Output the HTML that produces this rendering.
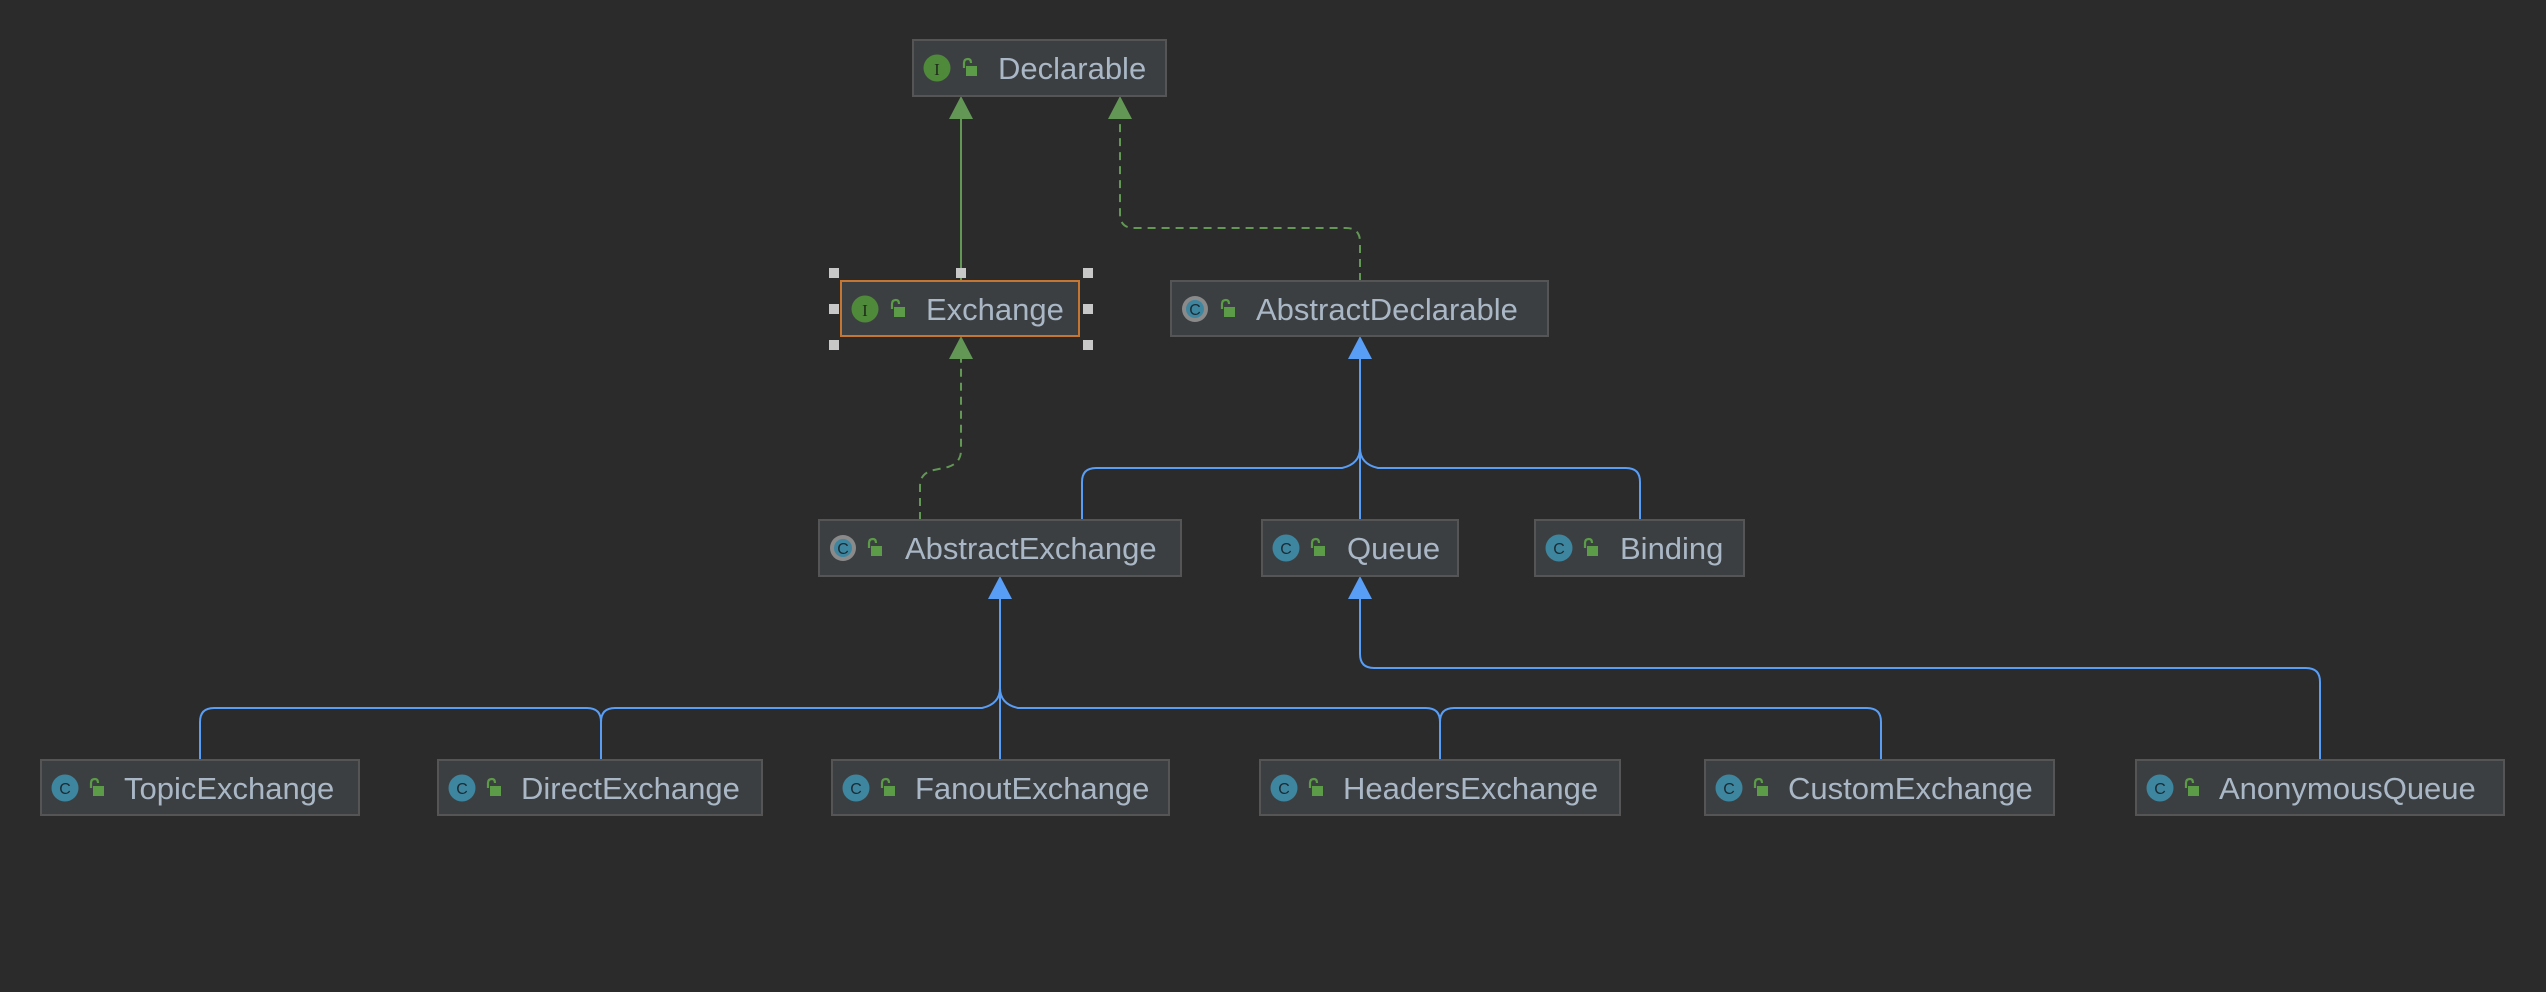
<!DOCTYPE html>
<html><head><meta charset="utf-8"><style>
html,body{margin:0;padding:0;background:#2b2b2b;}
svg{display:block}
text{font-family:"Liberation Sans",sans-serif;font-size:31px;fill:#a9b7c6}
</style></head><body>
<svg width="2546" height="992" viewBox="0 0 2546 992" xmlns="http://www.w3.org/2000/svg">
<defs>
<g id="lock"><path d="M2 -4 V-9 Q2 -13 6 -13 Q9 -13 9 -9" fill="none" stroke="#5c9c48" stroke-width="2.2"/><rect x="4" y="-6" width="11" height="10" fill="#5c9c48"/></g>
</defs>
<rect width="2546" height="992" fill="#2b2b2b"/>

<!-- green connectors -->
<g stroke="#629755" stroke-width="2" fill="none">
<line x1="961" y1="281" x2="961" y2="116"/>
<path d="M1360 281 V242 Q1360 228 1346 228 H1134 Q1120 228 1120 214 V116" stroke-dasharray="8,6"/>
<path d="M920 520 V486 Q920 473 934 470 L948 467 Q961 463 961 450 V356" stroke-dasharray="8,6"/>
</g>
<g fill="#629755">
<polygon points="961,96 949,119 973,119"/>
<polygon points="1120,96 1108,119 1132,119"/>
<polygon points="961,336 949,359 973,359"/>
</g>

<!-- blue connectors -->
<g stroke="#589df6" stroke-width="2" fill="none">
<line x1="1360" y1="350" x2="1360" y2="520"/>
<path d="M1082 520 V482 Q1082 468 1096 468 H1342 Q1360 464 1360 448 Q1360 464 1378 468 H1626 Q1640 468 1640 482 V520"/>
<line x1="1000" y1="590" x2="1000" y2="760"/>
<path d="M200 760 V722 Q200 708 214 708 H587 Q601 708 601 722 V760 M601 722 Q601 708 615 708 H982 Q1000 704 1000 688 Q1000 704 1018 708 H1426 Q1440 708 1440 722 V760 M1440 722 Q1440 708 1454 708 H1867 Q1881 708 1881 722 V760"/>
<path d="M1360 590 V654 Q1360 668 1374 668 H2306 Q2320 668 2320 682 V760"/>
</g>
<g fill="#589df6">
<polygon points="1360,336 1348,359 1372,359"/>
<polygon points="1000,576 988,599 1012,599"/>
<polygon points="1360,576 1348,599 1372,599"/>
</g>

<!-- boxes -->
<g stroke="#555" stroke-width="2" fill="#3c3f41">
<rect x="913" y="40" width="253" height="56"/>
<rect x="1171" y="281" width="377" height="55"/>
<rect x="819" y="520" width="362" height="56"/>
<rect x="1262" y="520" width="196" height="56"/>
<rect x="1535" y="520" width="209" height="56"/>
<rect x="41" y="760" width="318" height="55"/>
<rect x="438" y="760" width="324" height="55"/>
<rect x="832" y="760" width="337" height="55"/>
<rect x="1260" y="760" width="360" height="55"/>
<rect x="1705" y="760" width="349" height="55"/>
<rect x="2136" y="760" width="368" height="55"/>
</g>
<rect x="841" y="281" width="238" height="55" fill="#3c3f41" stroke="#c57633" stroke-width="2"/>

<!-- handles -->
<g fill="#c8c8c8">
<rect x="829" y="268" width="10" height="10"/><rect x="956" y="268" width="10" height="10"/><rect x="1083" y="268" width="10" height="10"/>
<rect x="829" y="304" width="10" height="10"/><rect x="1083" y="304" width="10" height="10"/>
<rect x="829" y="340" width="10" height="10"/><rect x="1083" y="340" width="10" height="10"/>
</g>

<!-- interface icons -->
<g>
<circle cx="937" cy="68" r="13.5" fill="#4f8a3a"/><text x="937" y="75" font-size="17" text-anchor="middle" style="fill:#1e2a1a;font-size:17px;font-family:'Liberation Serif',serif">I</text>
<use href="#lock" x="962" y="72"/>
<circle cx="865" cy="309" r="13.5" fill="#4f8a3a"/><text x="865" y="316" text-anchor="middle" style="fill:#1e2a1a;font-size:17px;font-family:'Liberation Serif',serif">I</text>
<use href="#lock" x="890" y="313"/>
</g>

<!-- class icons -->
<g font-size="16">
<circle cx="1195" cy="309" r="13" fill="#8a8a8a"/><circle cx="1195" cy="309" r="9" fill="#3e86a0"/><text x="1195" y="315" text-anchor="middle" style="fill:#1b2b33;font-size:16px">C</text><use href="#lock" x="1220" y="313"/>
<circle cx="843" cy="548" r="13" fill="#8a8a8a"/><circle cx="843" cy="548" r="9" fill="#3e86a0"/><text x="843" y="554" text-anchor="middle" style="fill:#1b2b33;font-size:16px">C</text><use href="#lock" x="867" y="552"/>
</g>
<g>
<circle cx="1286" cy="548" r="13.5" fill="#3e86a0"/><text x="1286" y="554" text-anchor="middle" style="fill:#1b2b33;font-size:16px">C</text><use href="#lock" x="1310" y="552"/>
<circle cx="1559" cy="548" r="13.5" fill="#3e86a0"/><text x="1559" y="554" text-anchor="middle" style="fill:#1b2b33;font-size:16px">C</text><use href="#lock" x="1583" y="552"/>
<circle cx="65" cy="788" r="13.5" fill="#3e86a0"/><text x="65" y="794" text-anchor="middle" style="fill:#1b2b33;font-size:16px">C</text><use href="#lock" x="89" y="792"/>
<circle cx="462" cy="788" r="13.5" fill="#3e86a0"/><text x="462" y="794" text-anchor="middle" style="fill:#1b2b33;font-size:16px">C</text><use href="#lock" x="486" y="792"/>
<circle cx="856" cy="788" r="13.5" fill="#3e86a0"/><text x="856" y="794" text-anchor="middle" style="fill:#1b2b33;font-size:16px">C</text><use href="#lock" x="880" y="792"/>
<circle cx="1284" cy="788" r="13.5" fill="#3e86a0"/><text x="1284" y="794" text-anchor="middle" style="fill:#1b2b33;font-size:16px">C</text><use href="#lock" x="1308" y="792"/>
<circle cx="1729" cy="788" r="13.5" fill="#3e86a0"/><text x="1729" y="794" text-anchor="middle" style="fill:#1b2b33;font-size:16px">C</text><use href="#lock" x="1753" y="792"/>
<circle cx="2160" cy="788" r="13.5" fill="#3e86a0"/><text x="2160" y="794" text-anchor="middle" style="fill:#1b2b33;font-size:16px">C</text><use href="#lock" x="2184" y="792"/>
</g>

<!-- labels -->
<text x="998" y="79">Declarable</text>
<text x="926" y="320">Exchange</text>
<text x="1256" y="320">AbstractDeclarable</text>
<text x="905" y="559">AbstractExchange</text>
<text x="1347" y="559">Queue</text>
<text x="1620" y="559">Binding</text>
<text x="124" y="799">TopicExchange</text>
<text x="521" y="799">DirectExchange</text>
<text x="915" y="799">FanoutExchange</text>
<text x="1343" y="799">HeadersExchange</text>
<text x="1788" y="799">CustomExchange</text>
<text x="2219" y="799">AnonymousQueue</text>
</svg>
</body></html>
